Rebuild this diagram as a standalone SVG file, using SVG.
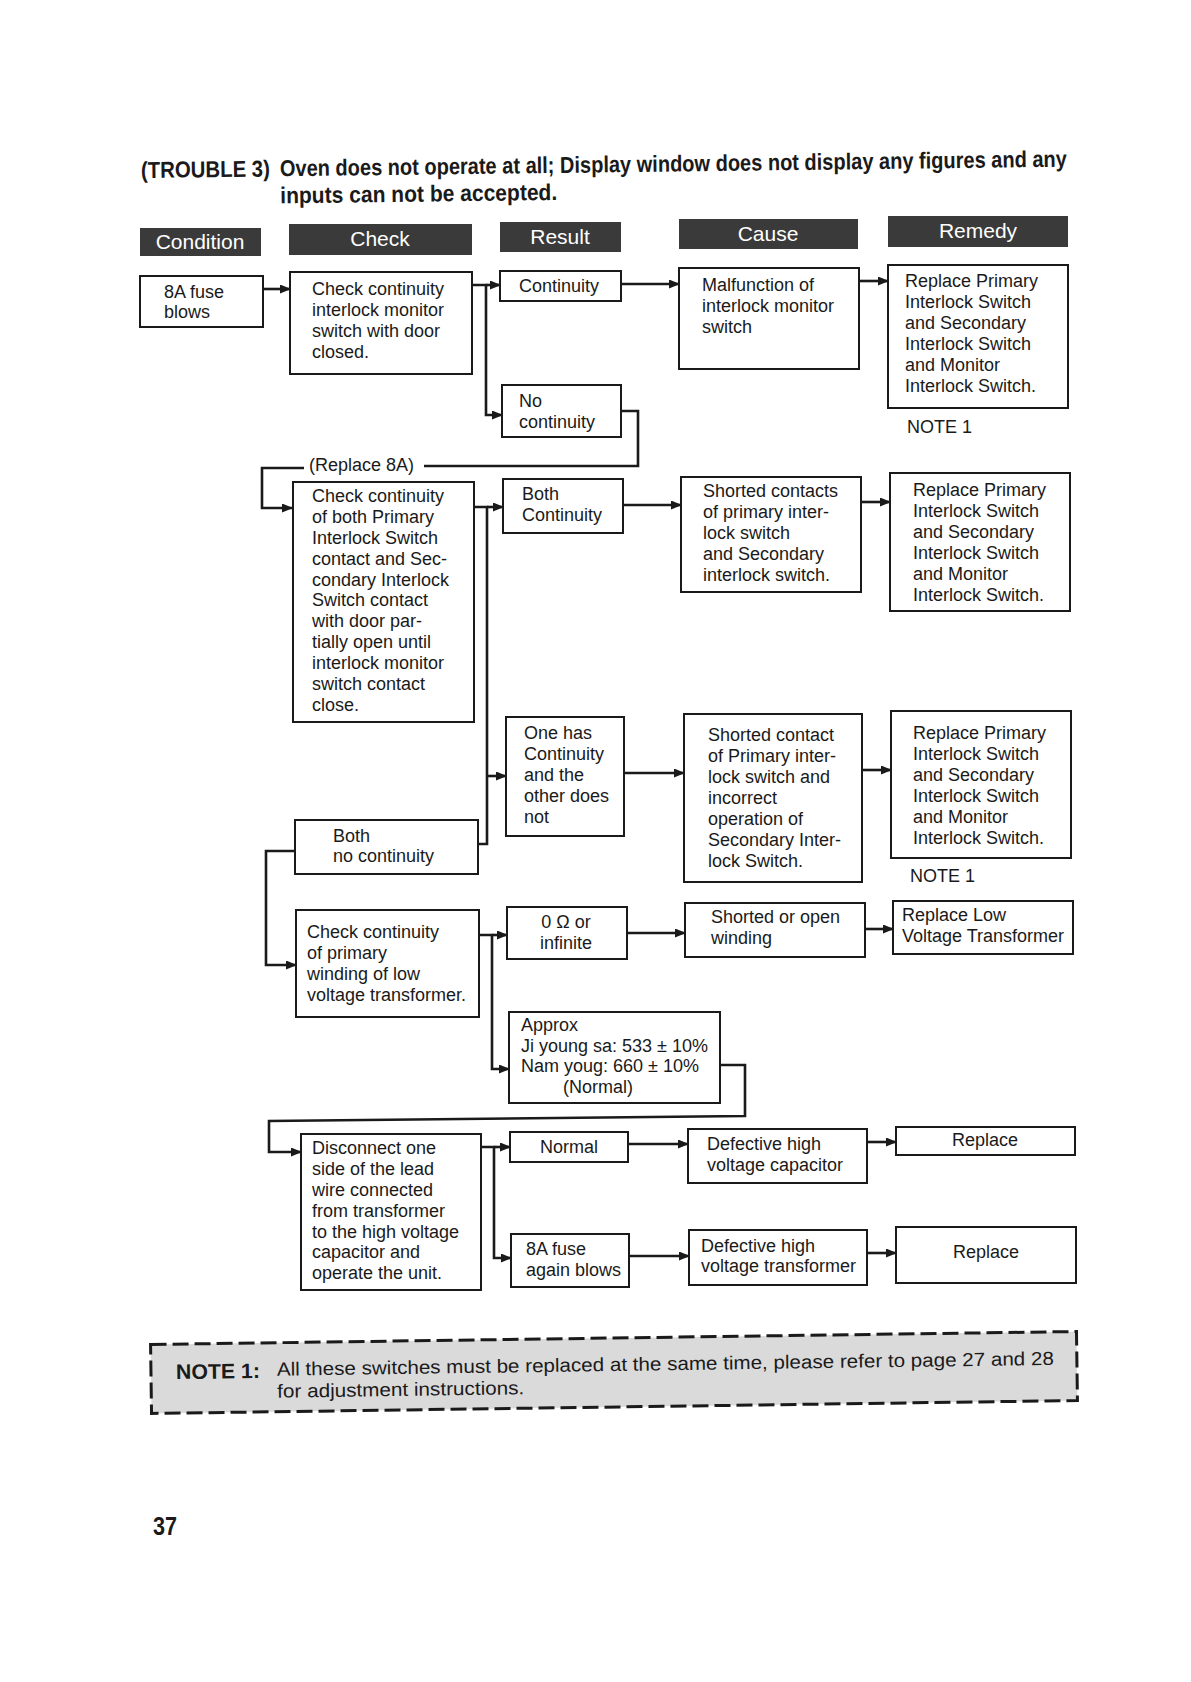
<svg xmlns="http://www.w3.org/2000/svg" width="1191" height="1682" viewBox="0 0 1191 1682">
<style>
text{font-family:"Liberation Sans",Arial,sans-serif;fill:#1a1a1a}
.t{font-size:18px}
.hd rect{fill:#3a3a3a}
.hd text{fill:#fff;font-size:21px;text-anchor:middle}
.box{fill:#fff;stroke:#1a1a1a;stroke-width:2}
.c{fill:none;stroke:#1a1a1a;stroke-width:2.6}
.mid{text-anchor:middle}
</style>
<defs>
<marker id="ah" markerUnits="userSpaceOnUse" markerWidth="11" markerHeight="9" refX="10" refY="4.5" orient="auto">
<path d="M0,0 L11,4.5 L0,9 z" fill="#1a1a1a"/>
</marker>
</defs>
<rect width="1191" height="1682" fill="#fff"/>

<g id="title" transform="rotate(-0.7 141 178)">
<text x="141" y="178" font-size="23" font-weight="bold" textLength="129" lengthAdjust="spacingAndGlyphs">(TROUBLE 3)</text>
<text x="280" y="178" font-size="23" font-weight="bold" textLength="787" lengthAdjust="spacingAndGlyphs">Oven does not operate at all; Display window does not display any figures and any</text>
<text x="280" y="205" font-size="23" font-weight="bold" textLength="277" lengthAdjust="spacingAndGlyphs">inputs can not be accepted.</text>
</g>

<g id="headers" class="hd">
<g id="h-condition"><rect x="140" y="228" width="121" height="28"/><text x="200" y="249">Condition</text></g>
<g id="h-check"><rect x="289" y="224" width="183" height="31"/><text x="380" y="246">Check</text></g>
<g id="h-result"><rect x="500" y="222" width="121" height="30"/><text x="560" y="244">Result</text></g>
<g id="h-cause"><rect x="679" y="219" width="179" height="30"/><text x="768" y="241">Cause</text></g>
<g id="h-remedy"><rect x="888" y="216" width="180" height="31"/><text x="978" y="238">Remedy</text></g>
</g>

<g id="connectors">
<path class="c" d="M263,289 H290" marker-end="url(#ah)"/>
<path class="c" d="M472,285 H486 V415 H502" marker-end="url(#ah)"/>
<path class="c" d="M486,285 H500" marker-end="url(#ah)"/>
<path class="c" d="M621,284 H679" marker-end="url(#ah)"/>
<path class="c" d="M859,281 H888" marker-end="url(#ah)"/>
<path class="c" d="M621,411 H638 V466 H424"/>
<path class="c" d="M304,468 H262 V508 H292" marker-end="url(#ah)"/>
<path class="c" d="M474,507 H487 V844 H478"/>
<path class="c" d="M487,507 H503" marker-end="url(#ah)"/>
<path class="c" d="M487,776 H506" marker-end="url(#ah)"/>
<path class="c" d="M623,505 H681" marker-end="url(#ah)"/>
<path class="c" d="M861,502 H890" marker-end="url(#ah)"/>
<path class="c" d="M624,773 H684" marker-end="url(#ah)"/>
<path class="c" d="M862,770 H891" marker-end="url(#ah)"/>
<path class="c" d="M295,851 H266 V965 H296" marker-end="url(#ah)"/>
<path class="c" d="M479,935 H492 V1069 H509" marker-end="url(#ah)"/>
<path class="c" d="M492,935 H507" marker-end="url(#ah)"/>
<path class="c" d="M627,933 H685" marker-end="url(#ah)"/>
<path class="c" d="M865,929 H893" marker-end="url(#ah)"/>
<path class="c" d="M720,1065 H745 V1116 L269,1121 V1152 H301" marker-end="url(#ah)"/>
<path class="c" d="M481,1147 H494 V1258 H511" marker-end="url(#ah)"/>
<path class="c" d="M494,1147 H510" marker-end="url(#ah)"/>
<path class="c" d="M628,1144 H688" marker-end="url(#ah)"/>
<path class="c" d="M867,1142 H896" marker-end="url(#ah)"/>
<path class="c" d="M629,1256 H689" marker-end="url(#ah)"/>
<path class="c" d="M867,1253 H896" marker-end="url(#ah)"/>
<text class="t" x="309" y="471">(Replace  8A)</text>
</g>

<g id="n-fuse"><rect class="box" x="140" y="276" width="123" height="51"/>
<text class="t" x="164" y="298">8A fuse</text><text class="t" x="164" y="318">blows</text></g>

<g id="n-check1"><rect class="box" x="290" y="272" width="182" height="102"/>
<text class="t" x="312" y="295">Check continuity</text><text class="t" x="312" y="316">interlock monitor</text><text class="t" x="312" y="337">switch with door</text><text class="t" x="312" y="358">closed.</text></g>

<g id="n-continuity"><rect class="box" x="500" y="271" width="121" height="30"/>
<text class="t" x="519" y="292">Continuity</text></g>

<g id="n-nocont"><rect class="box" x="502" y="385" width="119" height="52"/>
<text class="t" x="519" y="407">No</text><text class="t" x="519" y="428">continuity</text></g>

<g id="n-malfunction"><rect class="box" x="679" y="268" width="180" height="101"/>
<text class="t" x="702" y="291">Malfunction of</text><text class="t" x="702" y="312">interlock monitor</text><text class="t" x="702" y="333">switch</text></g>

<g id="n-remedy1"><rect class="box" x="888" y="265" width="180" height="143"/>
<text class="t" x="905" y="287">Replace Primary</text><text class="t" x="905" y="308">Interlock Switch</text><text class="t" x="905" y="329">and Secondary</text><text class="t" x="905" y="350">Interlock Switch</text><text class="t" x="905" y="371">and Monitor</text><text class="t" x="905" y="392">Interlock Switch.</text></g>
<text id="note-a" class="t" x="907" y="433">NOTE 1</text>

<g id="n-check2"><rect class="box" x="293" y="482" width="181" height="240"/>
<text class="t" x="312" y="502">Check continuity</text><text class="t" x="312" y="523">of both Primary</text><text class="t" x="312" y="544">Interlock Switch</text><text class="t" x="312" y="565">contact and Sec-</text><text class="t" x="312" y="586">condary Interlock</text><text class="t" x="312" y="606">Switch contact</text><text class="t" x="312" y="627">with door par-</text><text class="t" x="312" y="648">tially open until</text><text class="t" x="312" y="669">interlock monitor</text><text class="t" x="312" y="690">switch contact</text><text class="t" x="312" y="711">close.</text></g>

<g id="n-bothcont"><rect class="box" x="503" y="479" width="120" height="54"/>
<text class="t" x="522" y="500">Both</text><text class="t" x="522" y="521">Continuity</text></g>

<g id="n-shorted1"><rect class="box" x="681" y="477" width="180" height="115"/>
<text class="t" x="703" y="497">Shorted contacts</text><text class="t" x="703" y="518">of primary inter-</text><text class="t" x="703" y="539">lock switch</text><text class="t" x="703" y="560">and Secondary</text><text class="t" x="703" y="581">interlock switch.</text></g>

<g id="n-remedy2"><rect class="box" x="890" y="473" width="180" height="138"/>
<text class="t" x="913" y="496">Replace Primary</text><text class="t" x="913" y="517">Interlock Switch</text><text class="t" x="913" y="538">and Secondary</text><text class="t" x="913" y="559">Interlock Switch</text><text class="t" x="913" y="580">and Monitor</text><text class="t" x="913" y="601">Interlock Switch.</text></g>

<g id="n-onehas"><rect class="box" x="506" y="717" width="118" height="119"/>
<text class="t" x="524" y="739">One has</text><text class="t" x="524" y="760">Continuity</text><text class="t" x="524" y="781">and the</text><text class="t" x="524" y="802">other does</text><text class="t" x="524" y="823">not</text></g>

<g id="n-shorted2"><rect class="box" x="684" y="714" width="178" height="168"/>
<text class="t" x="708" y="741">Shorted contact</text><text class="t" x="708" y="762">of Primary inter-</text><text class="t" x="708" y="783">lock switch and</text><text class="t" x="708" y="804">incorrect</text><text class="t" x="708" y="825">operation of</text><text class="t" x="708" y="846">Secondary Inter-</text><text class="t" x="708" y="867">lock Switch.</text></g>

<g id="n-remedy3"><rect class="box" x="891" y="711" width="180" height="147"/>
<text class="t" x="913" y="739">Replace Primary</text><text class="t" x="913" y="760">Interlock Switch</text><text class="t" x="913" y="781">and Secondary</text><text class="t" x="913" y="802">Interlock Switch</text><text class="t" x="913" y="823">and Monitor</text><text class="t" x="913" y="844">Interlock Switch.</text></g>
<text id="note-b" class="t" x="910" y="882">NOTE 1</text>

<g id="n-bothno"><rect class="box" x="295" y="820" width="183" height="54"/>
<text class="t" x="333" y="842">Both</text><text class="t" x="333" y="862">no continuity</text></g>

<g id="n-check3"><rect class="box" x="296" y="910" width="183" height="107"/>
<text class="t" x="307" y="938">Check continuity</text><text class="t" x="307" y="959">of primary</text><text class="t" x="307" y="980">winding of low</text><text class="t" x="307" y="1001">voltage transformer.</text></g>

<g id="n-ohm"><rect class="box" x="507" y="907" width="120" height="52"/>
<text class="t mid" x="566" y="928">0 Ω or</text><text class="t mid" x="566" y="949">infinite</text></g>

<g id="n-shortedopen"><rect class="box" x="685" y="903" width="180" height="54"/>
<text class="t" x="711" y="923">Shorted or open</text><text class="t" x="711" y="944">winding</text></g>

<g id="n-replacelow"><rect class="box" x="893" y="901" width="180" height="53"/>
<text class="t" x="902" y="921">Replace Low</text><text class="t" x="902" y="942">Voltage Transformer</text></g>

<g id="n-approx"><rect class="box" x="509" y="1012" width="211" height="91"/>
<text class="t" x="521" y="1031">Approx</text><text class="t" x="521" y="1052">Ji young sa: 533 ± 10%</text><text class="t" x="521" y="1072">Nam youg: 660 ± 10%</text><text class="t" x="563" y="1093">(Normal)</text></g>

<g id="n-disconnect"><rect class="box" x="301" y="1134" width="180" height="156"/>
<text class="t" x="312" y="1154">Disconnect one</text><text class="t" x="312" y="1175">side of the lead</text><text class="t" x="312" y="1196">wire connected</text><text class="t" x="312" y="1217">from transformer</text><text class="t" x="312" y="1238">to the high voltage</text><text class="t" x="312" y="1258">capacitor and</text><text class="t" x="312" y="1279">operate the unit.</text></g>

<g id="n-normal"><rect class="box" x="510" y="1132" width="118" height="30"/>
<text class="t mid" x="569" y="1153">Normal</text></g>

<g id="n-defcap"><rect class="box" x="688" y="1129" width="179" height="54"/>
<text class="t" x="707" y="1150">Defective high</text><text class="t" x="707" y="1171">voltage capacitor</text></g>

<g id="n-replace1"><rect class="box" x="896" y="1127" width="179" height="28"/>
<text class="t mid" x="985" y="1146">Replace</text></g>

<g id="n-fuseagain"><rect class="box" x="511" y="1234" width="118" height="53"/>
<text class="t" x="526" y="1255">8A fuse</text><text class="t" x="526" y="1276">again blows</text></g>

<g id="n-deftrans"><rect class="box" x="689" y="1230" width="178" height="55"/>
<text class="t" x="701" y="1252">Defective high</text><text class="t" x="701" y="1272">voltage transformer</text></g>

<g id="n-replace2"><rect class="box" x="896" y="1227" width="180" height="56"/>
<text class="t mid" x="986" y="1258">Replace</text></g>

<g id="note" transform="rotate(-0.8 614 1372)">
<rect x="151" y="1338" width="926" height="69" fill="#dadada" stroke="#1a1a1a" stroke-width="3" stroke-dasharray="16 6"/>
<text x="176" y="1373" font-size="21" font-weight="bold" textLength="84" lengthAdjust="spacingAndGlyphs">NOTE 1:</text>
<text x="277" y="1371" font-size="19" textLength="777" lengthAdjust="spacingAndGlyphs">All these switches must be replaced at the same time, please refer to page 27 and 28</text>
<text x="277" y="1393" font-size="19" textLength="247" lengthAdjust="spacingAndGlyphs">for adjustment instructions.</text>
</g>

<text id="page" x="153" y="1535" font-size="25" font-weight="bold" textLength="24" lengthAdjust="spacingAndGlyphs">37</text>
</svg>
